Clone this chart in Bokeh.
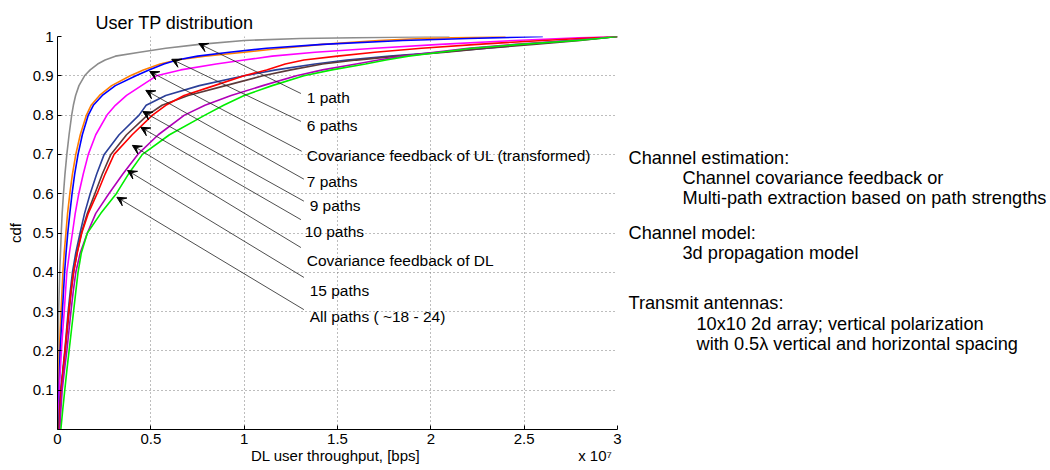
from bokeh.plotting import figure
from bokeh.layouts import row
from bokeh.models import Range1d, FixedTicker, LinearAxis, Arrow, VeeHead, ColumnDataSource
from bokeh.core.properties import value
from bokeh.embed import file_html
from bokeh.resources import INLINE

FONT = "Liberation Sans"

# cdf levels at which the throughput (x 1e7 bps) of each curve was read
cdf = [0, 0.05, 0.1, 0.15, 0.2, 0.25, 0.3, 0.35, 0.4, 0.45, 0.5, 0.55, 0.6, 0.65, 0.7, 0.75, 0.8,
       0.825, 0.85, 0.875, 0.9, 0.915, 0.93, 0.94, 0.95, 0.96, 0.97, 0.98, 0.99, 0.995, 1.0]

tp_1path = [0.0, 0.0, 0.001, 0.002, 0.003, 0.004, 0.006, 0.009, 0.012, 0.016, 0.02, 0.025, 0.032, 0.04, 0.05, 0.062, 0.076,
            0.085, 0.097, 0.115, 0.145, 0.175, 0.215, 0.255, 0.31, 0.44, 0.58, 0.76, 1.0, 1.3, 2.1]
tp_6paths = [0.003, 0.004, 0.006, 0.008, 0.01, 0.014, 0.019, 0.024, 0.029, 0.036, 0.045, 0.054, 0.066, 0.08, 0.098, 0.122, 0.155,
             0.18, 0.225, 0.29, 0.39, 0.46, 0.55, 0.64, 0.79, 1.0, 1.2, 1.42, 1.72, 1.95, 2.4]
tp_cov_ul = [0.004, 0.005, 0.008, 0.011, 0.014, 0.02, 0.026, 0.032, 0.038, 0.046, 0.055, 0.066, 0.078, 0.092, 0.11, 0.133, 0.165,
             0.192, 0.24, 0.31, 0.42, 0.49, 0.57, 0.64, 0.75, 0.92, 1.12, 1.42, 1.85, 2.2, 2.6]
tp_7paths = [0.005, 0.007, 0.01, 0.015, 0.021, 0.028, 0.036, 0.043, 0.05, 0.064, 0.08, 0.095, 0.114, 0.138, 0.165, 0.205, 0.265,
             0.31, 0.37, 0.45, 0.53, 0.66, 0.85, 1.0, 1.15, 1.38, 1.7, 2.05, 2.45, 2.7, 2.95]
tp_9paths = [0.006, 0.01, 0.017, 0.028, 0.039, 0.048, 0.057, 0.068, 0.08, 0.098, 0.121, 0.145, 0.175, 0.21, 0.25, 0.33, 0.437,
             0.475, 0.58, 0.76, 1.0, 1.17, 1.38, 1.55, 1.78, 2.05, 2.3, 2.5, 2.75, 2.88, 3.0]
tp_10paths = [0.007, 0.012, 0.019, 0.03, 0.042, 0.052, 0.062, 0.073, 0.086, 0.105, 0.128, 0.16, 0.2, 0.24, 0.286, 0.37, 0.482,
              0.56, 0.70, 0.9, 1.1, 1.25, 1.42, 1.6, 1.82, 2.08, 2.3, 2.55, 2.8, 2.9, 3.0]
tp_cov_dl = [0.01, 0.014, 0.02, 0.03, 0.04, 0.05, 0.06, 0.072, 0.086, 0.106, 0.13, 0.165, 0.212, 0.255, 0.303, 0.40, 0.509,
             0.58, 0.678, 0.84, 1.0, 1.12, 1.22, 1.32, 1.5, 1.7, 1.95, 2.25, 2.6, 2.8, 3.0]
tp_15paths = [0.012, 0.018, 0.025, 0.037, 0.05, 0.061, 0.072, 0.084, 0.098, 0.122, 0.16, 0.205, 0.275, 0.35, 0.43, 0.54, 0.68,
              0.79, 0.93, 1.1, 1.28, 1.42, 1.6, 1.72, 1.85, 2.02, 2.2, 2.45, 2.75, 2.88, 3.0]
tp_all = [0.018, 0.028, 0.039, 0.05, 0.062, 0.074, 0.086, 0.098, 0.11, 0.128, 0.16, 0.232, 0.315, 0.38, 0.455, 0.6, 0.79,
          0.89, 1.0, 1.15, 1.32, 1.47, 1.65, 1.76, 1.88, 2.05, 2.22, 2.48, 2.78, 2.9, 3.0]

series = [tp_1path, tp_6paths, tp_cov_ul, tp_7paths, tp_9paths, tp_10paths, tp_cov_dl, tp_15paths, tp_all]
colors = ["#8c8c8c", "#ff7f00", "#0000ff", "#ff00ff", "#2b3f99", "#5c3a3a", "#ff0000", "#b000b8", "#00ee00"]

# annotation labels
labels = ["1 path", "6 paths", "Covariance feedback of UL (transformed)", "7 paths", "9 paths",
          "10 paths", "Covariance feedback of DL", "15 paths", "All paths ( ~18 - 24)"]
label_x = [1.335, 1.335, 1.335, 1.335, 1.351, 1.324, 1.335, 1.351, 1.351]
label_y = [0.845, 0.774, 0.697, 0.631, 0.570, 0.504, 0.430, 0.354, 0.288]
arrow_from_x = [1.304, 1.304, 1.308, 1.32, 1.32, 1.304, 1.304, 1.32, 1.32]
arrow_from_y = [0.855, 0.784, 0.708, 0.637, 0.581, 0.534, 0.463, 0.387, 0.305]
arrow_tip_x = [0.757, 0.612, 0.494, 0.473, 0.457, 0.446, 0.401, 0.375, 0.318]
arrow_tip_y = [0.982, 0.942, 0.911, 0.863, 0.809, 0.769, 0.723, 0.659, 0.591]

x_ticks = [0, 0.5, 1, 1.5, 2, 2.5, 3]
x_tick_labels = ["0", "0.5", "1", "1.5", "2", "2.5", "3"]
y_ticks = [0.1, 0.2, 0.3, 0.4, 0.5, 0.6, 0.7, 0.8, 0.9, 1.0]
y_tick_labels = ["0.1", "0.2", "0.3", "0.4", "0.5", "0.6", "0.7", "0.8", "0.9", "1"]

x_title = "DL user throughput, [bps]"
x_scale_note = "x 10\u2077"

side_text = ["Channel estimation:", "Channel covariance feedback or", "Multi-path extraction based on path strengths",
             "Channel model:", "3d propagation model",
             "Transmit antennas:", "10x10 2d array; vertical polarization", "with 0.5\u03bb vertical and horizontal spacing"]
# positions in a panel whose frame matches the chart frame (0 = bottom of plot area)
side_x = [1, 55, 55, 1, 55, 1, 69, 69]
side_y = [272, 252, 232, 197, 177, 127, 106, 86]

# ---------------- main chart ----------------
p = figure(frame_width=560, frame_height=393, x_range=Range1d(0, 3), y_range=Range1d(0, 1),
           output_backend="svg", toolbar_location=None,
           min_border_left=57, min_border_right=10, min_border_top=36, min_border_bottom=41)
p.outline_line_color = None
p.background_fill_color = "white"
p.border_fill_color = "white"

p.title.text = "User TP distribution"
p.title.text_font = FONT
p.title.text_font_size = "18px"
p.title.text_font_style = "normal"
p.title.text_color = "black"
p.title.align = "left"
p.title.offset = 38
p.title.standoff = 7

for tp, c in zip(series, colors):
    p.line(tp, cdf, line_color=c, line_width=1.6)

p.xaxis.ticker = FixedTicker(ticks=x_ticks)
p.xaxis.major_label_overrides = dict(zip(x_ticks, x_tick_labels))
p.yaxis.ticker = FixedTicker(ticks=y_ticks)
p.yaxis.major_label_overrides = dict(zip(y_ticks, y_tick_labels))
for ax in (p.xaxis[0], p.yaxis[0]):
    ax.major_tick_in = 4
    ax.major_tick_out = 0
    ax.minor_tick_line_color = None
    ax.axis_line_color = "black"
    ax.major_tick_line_color = "black"
    ax.major_label_text_font = FONT
    ax.major_label_text_font_size = "15px"
    ax.major_label_text_color = "black"
    ax.axis_label_text_font = FONT
    ax.axis_label_text_font_size = "15px"
    ax.axis_label_text_font_style = "normal"
    ax.axis_label_text_color = "black"
p.yaxis.axis_label = "cdf"
p.xaxis.major_label_standoff = 4
p.yaxis.major_label_standoff = 4
p.yaxis.axis_label_standoff = 6

# second row under the x axis: axis title and the x 10^7 scale note on one line
note_axis = LinearAxis(ticker=FixedTicker(ticks=[1.49, 2.88]),
                       major_label_overrides={1.49: x_title, 2.88: x_scale_note},
                       axis_line_color=None, major_tick_line_color=None, minor_tick_line_color=None,
                       major_tick_in=0, major_tick_out=0, major_label_standoff=0,
                       major_label_text_font=FONT, major_label_text_font_size="15px",
                       major_label_text_color="black")
p.add_layout(note_axis, "below")

for g in (p.xgrid[0], p.ygrid[0]):
    g.grid_line_color = "#7a7a7a"
    g.grid_line_dash = "1 3"
    g.grid_line_width = 1

arr_src = ColumnDataSource(dict(x0=arrow_from_x, y0=arrow_from_y, x1=arrow_tip_x, y1=arrow_tip_y))
p.add_layout(Arrow(end=VeeHead(size=9, fill_color="black", line_color="black", line_width=1),
                   x_start="x0", y_start="y0", x_end="x1", y_end="y1", source=arr_src,
                   line_color="#222222", line_width=0.8))

lab_src = ColumnDataSource(dict(x=label_x, y=label_y, t=labels))
p.text(x="x", y="y", text="t", source=lab_src, text_font=value(FONT), text_font_size="15.5px",
       text_baseline="middle", text_align="left", text_color="black")

# ---------------- side notes ----------------
s = figure(frame_width=423, frame_height=393, x_range=Range1d(0, 423), y_range=Range1d(0, 393), title=None,
           output_backend="svg", toolbar_location=None,
           min_border_left=0, min_border_right=0, min_border_top=36, min_border_bottom=41)
s.axis.visible = False
s.grid.visible = False
s.outline_line_color = None
s.background_fill_color = "white"
s.border_fill_color = "white"
side_src = ColumnDataSource(dict(x=side_x, y=side_y, t=side_text))
s.text(x="x", y="y", text="t", source=side_src, text_font=value(FONT), text_font_size="18.2px",
       text_baseline="middle", text_align="left", text_color="black")

layout = row(p, s)
open("out.html", "w").write(file_html(layout, INLINE))
